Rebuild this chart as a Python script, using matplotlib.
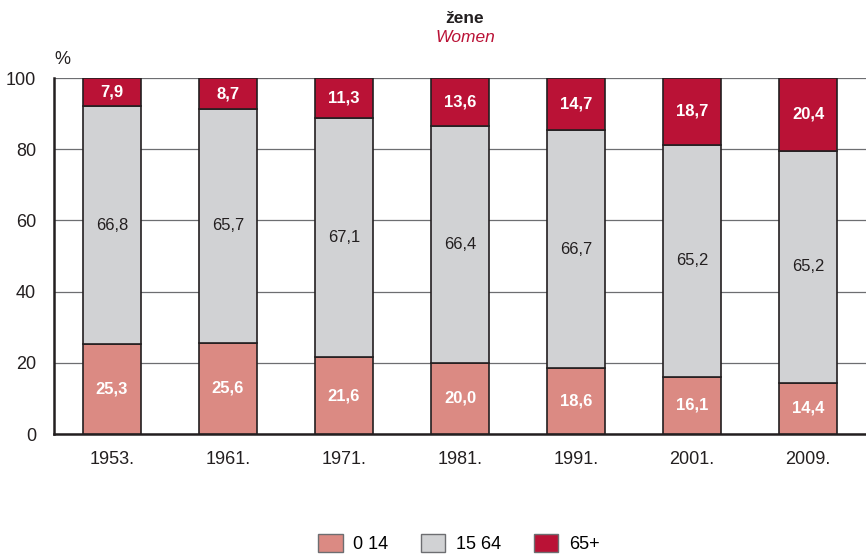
import numpy as np
import matplotlib
matplotlib.use('Agg')
import matplotlib.pyplot as plt
from matplotlib.patches import Patch

plt.rcParams['font.family'] = ['Liberation Sans Narrow', 'Liberation Sans', 'DejaVu Sans']

years = ['1953.', '1961.', '1971.', '1981.', '1991.', '2001.', '2009.']
age_0_14 = [25.3, 25.6, 21.6, 20.0, 18.6, 16.1, 14.4]
age_15_64 = [66.8, 65.7, 67.1, 66.4, 66.7, 65.2, 65.2]
age_65 = [7.9, 8.7, 11.3, 13.6, 14.7, 18.7, 20.4]
labels = ['0 14', '15 64', '65+']

colors = ['#DB8A83', '#D1D2D4', '#BA1236']
edge = '#231F20'

fig = plt.figure(figsize=(8.66, 5.55), dpi=100)
ax = fig.add_axes([0.0624, 0.218, 0.9376, 0.6414])

x = np.arange(len(years))
w = 0.5
a = np.array(age_0_14)
b = np.array(age_15_64)
c = np.array(age_65)

ax.bar(x, a, w, color=colors[0], edgecolor=edge, linewidth=1.2, zorder=3)
ax.bar(x, b, w, bottom=a, color=colors[1], edgecolor=edge, linewidth=1.2, zorder=3)
ax.bar(x, c, w, bottom=a + b, color=colors[2], edgecolor=edge, linewidth=1.2, zorder=3)

def fmt(v):
    return ('%.1f' % v).replace('.', ',')

for i in range(len(x)):
    ax.text(x[i], a[i] / 2, fmt(a[i]), ha='center', va='center', color='white',
            fontsize=12, fontweight='bold', zorder=4)
    ax.text(x[i], a[i] + b[i] / 2, fmt(b[i]), ha='center', va='center', color='#231F20',
            fontsize=12, zorder=4)
    ax.text(x[i], a[i] + b[i] + c[i] / 2, fmt(c[i]), ha='center', va='center', color='white',
            fontsize=12, fontweight='bold', zorder=4)

ax.set_xlim(-0.5, len(years) - 0.5)
ax.set_ylim(0, 100)
ax.set_yticks([0, 20, 40, 60, 80, 100])
ax.set_xticks(x)
ax.set_xticklabels(years)
ax.tick_params(axis='both', length=0, labelsize=13, colors='#231F20')
ax.tick_params(axis='y', pad=13)
ax.tick_params(axis='x', pad=12)
ax.yaxis.grid(True, color='#6D6E71', linewidth=0.9, zorder=0)
ax.spines['top'].set_visible(False)
ax.spines['right'].set_visible(False)
ax.spines['left'].set_color(edge)
ax.spines['left'].set_linewidth(1.8)
ax.spines['bottom'].set_color(edge)
ax.spines['bottom'].set_linewidth(1.8)

fig.text(0.537, 0.966, 'žene', ha='center', va='center', fontsize=12.5, fontweight='bold', color='#231F20')
fig.text(0.537, 0.932, 'Women', ha='center', va='center', fontsize=12.5, fontstyle='italic', color='#BA1236')
fig.text(0.072, 0.892, '%', ha='center', va='center', fontsize=13, color='#231F20')

handles = [Patch(facecolor=colors[k], edgecolor='#6D6E71', linewidth=1.0) for k in range(3)]
fig.legend(handles, labels, loc='center', bbox_to_anchor=(0.53, 0.021), ncol=3, frameon=False,
           fontsize=13, handlelength=1.35, handleheight=1.2, columnspacing=1.8, handletextpad=0.6)

fig.savefig('out.png', dpi=100)
